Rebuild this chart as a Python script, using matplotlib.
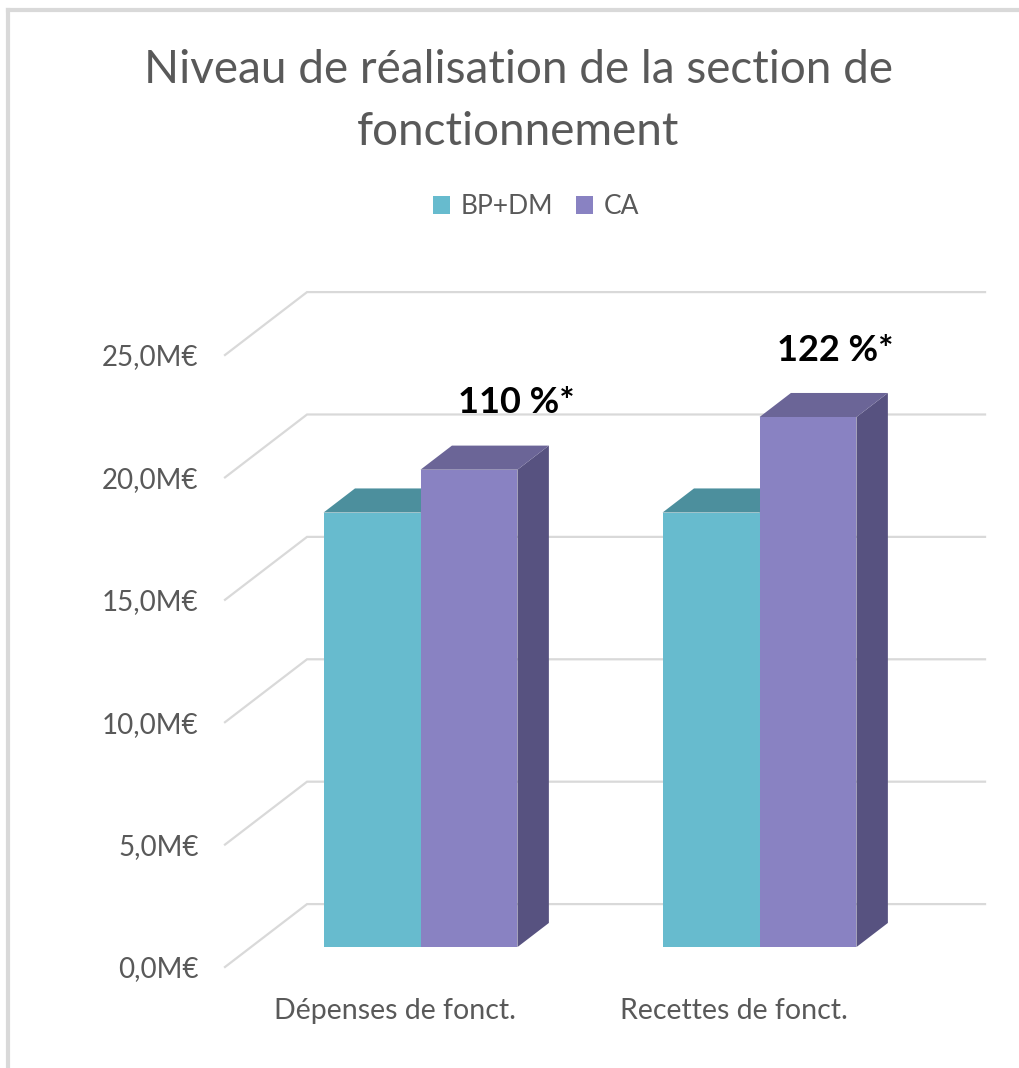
import matplotlib.pyplot as plt
from matplotlib.patches import Polygon, Patch
from matplotlib.lines import Line2D

# data
categories = ["Dépenses de fonct.", "Recettes de fonct."]
series = ["BP+DM", "CA"]
bp_dm = [17.75, 17.75]
ca = [19.5, 21.65]
rates = ["110 %*", "122 %*"]
y_ticks = [0, 5, 10, 15, 20, 25]
y_tick_labels = ["0,0M€", "5,0M€", "10,0M€", "15,0M€", "20,0M€", "25,0M€"]

# style
FONT = "Lato"
GREY_TXT = "#595959"
GRID = "#d9d9d9"
front_col = ["#67BBCE", "#8982C2"]
top_col = ["#4C8F9D", "#6B6597"]
side_col = ["#4A8594", "#575280"]
label_dx = [0.36, 0.30]  # hand-placed text boxes in the original

# fake 3d geometry (data units of the front plane)
WALL_DX, WALL_DY = 0.242, 2.57
D0, D1 = 0.317, 0.70
BAR_W = 0.286

fig = plt.figure(figsize=(10.19, 10.68), dpi=100)
W, H = 1019, 1068
ax = fig.add_axes([225 / W, (H - 967) / H, 678 / W, 612 / H])
ax.set_xlim(0, 2)
ax.set_ylim(0, 25)
for s in ax.spines.values():
    s.set_visible(False)

# walls: left diagonal + back horizontal gridlines
for v in y_ticks:
    ax.plot([0, WALL_DX, 2 + WALL_DX], [v, v + WALL_DY, v + WALL_DY],
            color=GRID, lw=1.6, clip_on=False, zorder=1, solid_joinstyle="miter")


def draw_bar(x0, x1, h, i):
    ox0, oy0 = WALL_DX * D0, WALL_DY * D0
    ox1, oy1 = WALL_DX * D1, WALL_DY * D1
    side = [(x1 + ox0, oy0), (x1 + ox1, oy1), (x1 + ox1, h + oy1), (x1 + ox0, h + oy0)]
    top = [(x0 + ox0, h + oy0), (x1 + ox0, h + oy0), (x1 + ox1, h + oy1), (x0 + ox1, h + oy1)]
    front = [(x0 + ox0, oy0), (x1 + ox0, oy0), (x1 + ox0, h + oy0), (x0 + ox0, h + oy0)]
    for pts, c in ((side, side_col[i]), (top, top_col[i]), (front, front_col[i])):
        ax.add_patch(Polygon(pts, closed=True, facecolor=c, edgecolor="none",
                             clip_on=False, zorder=3))


centers = [0.5 + k for k in range(len(categories))]
for k, c in enumerate(centers):
    draw_bar(c - BAR_W, c, bp_dm[k], 0)
    draw_bar(c, c + BAR_W, ca[k], 1)
    ax.text(c + label_dx[k], ca[k] + 3.55, rates[k], ha="center", va="center",
            fontsize=26, fontweight="bold", color="black", family=FONT, zorder=5)

ax.set_yticks(y_ticks)
ax.set_yticklabels(y_tick_labels, fontsize=20, color=GREY_TXT, family=FONT)
ax.set_xticks(centers)
ax.set_xticklabels(categories, fontsize=20.5, color=GREY_TXT, family=FONT)
ax.tick_params(axis="y", length=0, pad=19)
ax.tick_params(axis="x", length=0, pad=22)

fig.text(518 / W, 1 - 101 / H,
         "Niveau de réalisation de la section de\nfonctionnement",
         ha="center", va="center", fontsize=33, color=GREY_TXT, family=FONT,
         linespacing=1.6)

handles = [Patch(facecolor=front_col[i], edgecolor="none") for i in range(len(series))]
fig.legend(handles, series, loc="center", bbox_to_anchor=(536 / W, 1 - 207 / H),
           ncol=2, frameon=False, prop={"family": FONT, "size": 19},
           labelcolor=GREY_TXT, handlelength=0.65, handleheight=0.65,
           handletextpad=0.42, columnspacing=0.85)

# chart frame (only top and left edges are inside the picture)
fig.add_artist(Line2D([8 / W, 8 / W], [0, 1 - 10 / H], transform=fig.transFigure,
                      color=GRID, lw=3))
fig.add_artist(Line2D([8 / W, 1], [1 - 10 / H, 1 - 10 / H], transform=fig.transFigure,
                      color=GRID, lw=3))

fig.savefig("out.png", dpi=100)
